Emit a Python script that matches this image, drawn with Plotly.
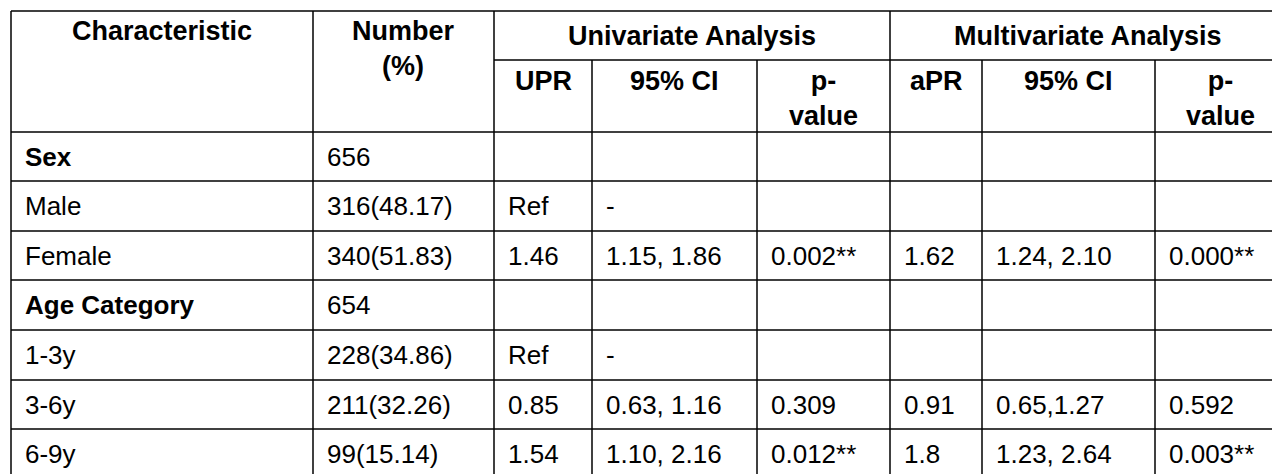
import plotly.graph_objects as go

characteristics = ["Sex", "Male", "Female", "Age Category", "1-3y", "3-6y", "6-9y"]
bold_rows = ["Sex", "Age Category"]
numbers = ["656", "316(48.17)", "340(51.83)", "654", "228(34.86)", "211(32.26)", "99(15.14)"]
upr = ["", "Ref", "1.46", "", "Ref", "0.85", "1.54"]
uci = ["", "-", "1.15, 1.86", "", "-", "0.63, 1.16", "1.10, 2.16"]
up = ["", "", "0.002**", "", "", "0.309", "0.012**"]
apr = ["", "", "1.62", "", "", "0.91", "1.8"]
aci = ["", "", "1.24, 2.10", "", "", "0.65,1.27", "1.23, 2.64"]
ap = ["", "", "0.000**", "", "", "0.592", "0.003**"]
sub_headers = ["UPR", "95% CI", "p-<br>value", "aPR", "95% CI", "p-<br>value"]
group_headers = ["Univariate Analysis", "Multivariate Analysis"]

cols = [3, 305, 486, 584, 749, 882, 974, 1147, 1277]
rows = [3, 52, 124, 173, 223, 272, 322, 372, 421, 470]
FONT = "Liberation Sans, Arial, sans-serif"
FS = 26
HFS = 27

fig = go.Figure()
shapes = []
L = dict(color="black", width=1.5)
shapes.append(dict(type="line", x0=cols[0], x1=cols[-1], y0=rows[0], y1=rows[0], line=L))
shapes.append(dict(type="line", x0=cols[2], x1=cols[-1], y0=rows[1], y1=rows[1], line=L))
for y in rows[2:]:
    shapes.append(dict(type="line", x0=cols[0], x1=cols[-1], y0=y, y1=y, line=L))
for i, x in enumerate(cols):
    y0 = rows[1] if i in (3, 4, 6, 7) else rows[0]
    shapes.append(dict(type="line", x0=x, x1=x, y0=y0, y1=rows[-1], line=L))

ann = []
def add(x, y, s, size, anchor="center", yanchor="middle"):
    ann.append(dict(x=x, y=y, text=s, showarrow=False, xanchor=anchor, yanchor=yanchor,
                    font=dict(family=FONT, size=size, color="black")))

add((cols[0]+cols[1])/2, rows[0]+3, "<b>Characteristic</b>", HFS, yanchor="top")
add((cols[1]+cols[2])/2, rows[0]+3, "<b>Number<br>(%)</b>", HFS, yanchor="top")
add((cols[2]+cols[5])/2, (rows[0]+rows[1])/2, f"<b>{group_headers[0]}</b>", HFS)
add((cols[5]+cols[8])/2, (rows[0]+rows[1])/2, f"<b>{group_headers[1]}</b>", HFS)
for j, h in enumerate(sub_headers):
    add((cols[2+j]+cols[3+j])/2, rows[1]+4, f"<b>{h}</b>", HFS, yanchor="top")

columns = [characteristics, numbers, upr, uci, up, apr, aci, ap]
for r in range(len(characteristics)):
    yc = (rows[2+r]+rows[3+r])/2
    for c, col in enumerate(columns):
        s = col[r]
        if not s:
            continue
        if c == 0 and s in bold_rows:
            s = f"<b>{s}</b>"
        add(cols[c]+12, yc, s, FS, anchor="left")

fig.update_layout(width=1280, height=474, margin=dict(l=0, r=0, t=0, b=0),
                  paper_bgcolor="white", plot_bgcolor="white", shapes=shapes, annotations=ann,
                  showlegend=False)
fig.update_xaxes(range=[0, 1280], visible=False, fixedrange=True)
fig.update_yaxes(range=[474, 0], visible=False, fixedrange=True)
fig.write_html("out.html")
